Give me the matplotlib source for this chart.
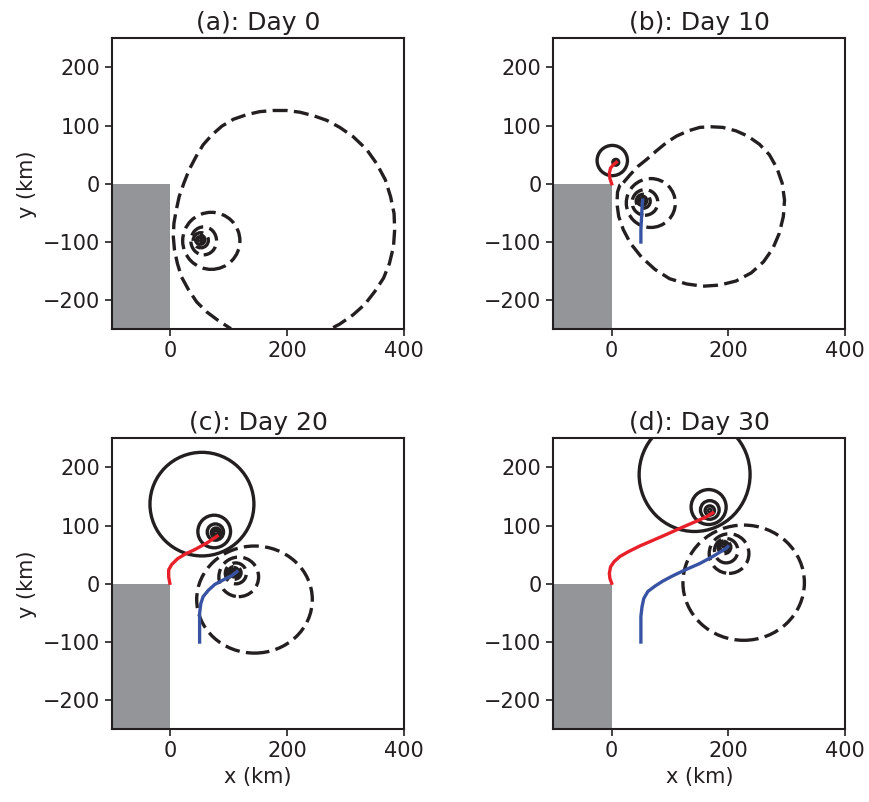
import matplotlib
matplotlib.use('Agg')
import matplotlib.pyplot as plt
from matplotlib.patches import Ellipse, Rectangle

# Land region (grey)
land_x = [-100, 0]
land_y = [-250, 0]

# Contour rings: (cx, cy, rx, ry) in km
neg_rings_a = [(50, -96, 2, 2), (50, -96, 5, 5), (51, -96, 8, 8), (52, -97, 13, 13), (57, -98, 22, 24), (70, -98, 49, 49)]
pos_rings_a = []
neg_rings_b = [(51, -29, 2, 2), (51, -29, 5, 5), (52, -29, 8, 8), (54, -30, 12, 12), (57, -32, 22, 22), (67, -33, 42, 42)]
pos_rings_b = [(7, 37, 2, 2), (7, 37, 5, 5), (1, 40, 26, 26)]
neg_rings_c = [(108, 20, 2, 2), (108, 20, 5, 5), (109, 20, 8, 8), (110, 19, 11, 11), (112, 18, 18, 18), (117, 12, 34, 34), (144, -27, 99, 92)]
pos_rings_c = [(78, 88, 2, 2), (78, 88, 5, 5), (78, 88, 8, 8), (77, 89, 14, 14), (75, 90, 28, 28), (54, 137, 89, 89)]
neg_rings_d = [(191, 66, 2, 2), (191, 66, 5, 5), (192, 65, 8, 8), (193, 63, 11, 11), (196, 57, 20, 21), (201, 52, 34, 34), (226, 2, 104, 99)]
pos_rings_d = [(168, 126, 2, 2), (168, 126, 8, 8), (168, 127, 16, 16), (166, 132, 30, 30), (142, 188, 95, 98)]

# Outer negative contours that are not circles
loop_a_x = [110, 102, 82, 62, 45, 31, 19, 12, 7, 5, 6, 10, 15, 23, 32, 44, 56, 71, 88, 108, 131, 153,
            176, 199, 222, 245, 268, 290, 313, 336, 353, 368, 377, 383, 384, 382, 375, 365, 350, 333,
            313, 290, 273, 262]
loop_a_y = [-258, -248, -235, -220, -203, -182, -160, -137, -114, -91, -68, -45, -22, 1, 24, 47, 67,
            84, 99, 111, 119, 124, 126, 126, 123, 117, 109, 97, 81, 59, 35, 7, -22, -51, -79, -108,
            -137, -162, -185, -207, -225, -241, -250, -258]
loop_b_x = [20, 31, 45, 60, 77, 94, 111, 131, 151, 171, 190, 213, 233, 253, 270, 283, 292, 296, 294,
            287, 276, 260, 239, 213, 185, 156, 128, 99, 74, 51, 32, 20, 12, 9, 10, 14, 20]
loop_b_y = [2, 15, 30, 42, 57, 71, 82, 91, 97, 98, 97, 91, 82, 68, 50, 27, 1, -28, -56, -85, -111,
            -134, -153, -167, -174, -176, -172, -163, -147, -126, -102, -79, -56, -34, -14, -2, 2]

# Vortex tracks
red_b_x = [0, -3, -4, -2, 3, 8]
red_b_y = [0, 9, 18, 27, 33, 37]
blue_b_x = [50, 50, 51, 52, 53]
blue_b_y = [-100, -80, -60, -40, -28]
red_c_x = [-1, -3, -3, 2, 12, 25, 42, 62, 80]
red_c_y = [1, 12, 24, 33, 43, 51, 59, 70, 82]
blue_c_x = [50, 50, 50, 52, 56, 65, 76, 91, 105, 114]
blue_c_y = [-100, -74, -51, -34, -22, -11, -1, 7, 14, 21]
red_d_x = [0, -3, -4, -2, 4, 14, 28, 48, 71, 94, 116, 139, 162, 173]
red_d_y = [1, 9, 18, 29, 38, 47, 55, 65, 75, 85, 95, 105, 115, 122]
blue_d_x = [50, 50, 50, 52, 55, 62, 74, 88, 105, 128, 151, 173, 196, 199]
blue_d_y = [-100, -79, -56, -39, -25, -13, -4, 5, 14, 25, 35, 47, 61, 64]

titles = ['(a): Day 0', '(b): Day 10', '(c): Day 20', '(d): Day 30']

ink = '#231f20'
red = '#e8202a'
blue = '#3953a4'
grey = '#939598'
lw = 2.4
dash = (0, (4.5, 1.9))

plt.rcParams['font.family'] = 'DejaVu Sans'
plt.rcParams['text.color'] = ink
plt.rcParams['axes.labelcolor'] = ink
plt.rcParams['xtick.color'] = ink
plt.rcParams['ytick.color'] = ink

fig = plt.figure(figsize=(8.69, 8.02), dpi=100)
rects = [[0.1289, 0.5894, 0.336, 0.3628], [0.6367, 0.5894, 0.336, 0.3628],
         [0.1289, 0.0906, 0.336, 0.3628], [0.6367, 0.0906, 0.336, 0.3628]]

panels = [
    (neg_rings_a, pos_rings_a, (loop_a_x, loop_a_y), None, None),
    (neg_rings_b, pos_rings_b, (loop_b_x, loop_b_y), (red_b_x, red_b_y), (blue_b_x, blue_b_y)),
    (neg_rings_c, pos_rings_c, None, (red_c_x, red_c_y), (blue_c_x, blue_c_y)),
    (neg_rings_d, pos_rings_d, None, (red_d_x, red_d_y), (blue_d_x, blue_d_y)),
]

for i, (neg, pos, loop, red_tr, blue_tr) in enumerate(panels):
    ax = fig.add_axes(rects[i])
    ax.add_patch(Rectangle((land_x[0], land_y[0]), land_x[1] - land_x[0], land_y[1] - land_y[0],
                           facecolor=grey, edgecolor='none', zorder=1))
    for cx, cy, rx, ry in neg:
        ax.add_patch(Ellipse((cx, cy), 2 * rx, 2 * ry, fill=False, edgecolor=ink,
                             lw=lw, linestyle=dash, zorder=2))
    for cx, cy, rx, ry in pos:
        ax.add_patch(Ellipse((cx, cy), 2 * rx, 2 * ry, fill=False, edgecolor=ink,
                             lw=lw, linestyle='-', zorder=2))
    if loop is not None:
        ax.plot(loop[0], loop[1], color=ink, lw=lw, linestyle=dash, zorder=2)
    if red_tr is not None:
        ax.plot(red_tr[0], red_tr[1], color=red, lw=lw, zorder=3)
    if blue_tr is not None:
        ax.plot(blue_tr[0], blue_tr[1], color=blue, lw=lw, zorder=3)

    ax.set_xlim(-100, 400)
    ax.set_ylim(-250, 250)
    ax.set_xticks([0, 200, 400])
    ax.set_yticks([-200, -100, 0, 100, 200])
    ax.tick_params(labelsize=15, length=5, width=1.2, direction='out')
    for s in ax.spines.values():
        s.set_linewidth(1.5)
        s.set_color(ink)
    ax.set_title(titles[i], fontsize=18, pad=6)
    if i in (0, 2):
        ax.set_ylabel('y (km)', fontsize=15)
    if i in (2, 3):
        ax.set_xlabel('x (km)', fontsize=15)

fig.savefig('out.png', dpi=100)
